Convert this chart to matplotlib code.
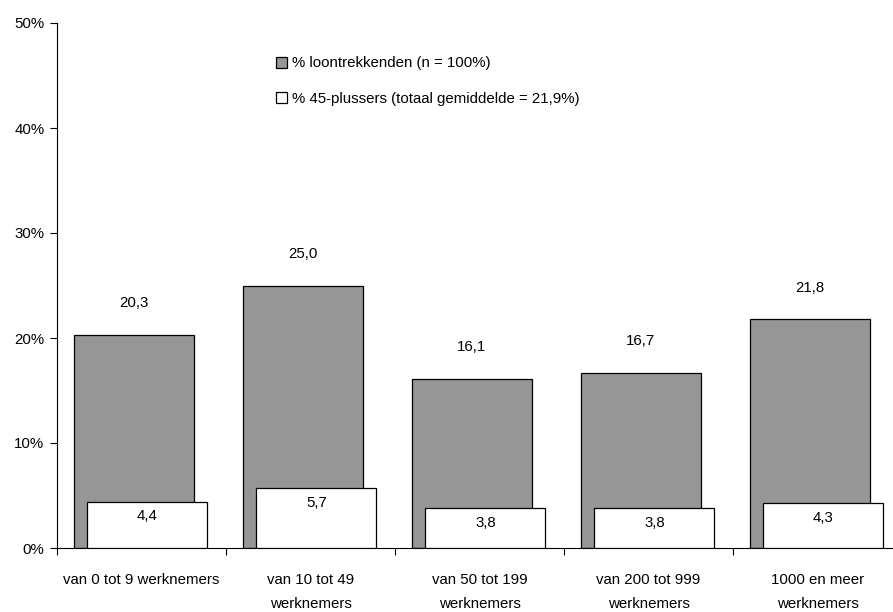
import numpy as np
import matplotlib.pyplot as plt
from matplotlib.patches import Patch
from matplotlib.ticker import FuncFormatter

plt.rcParams['font.family'] = ['Liberation Sans', 'DejaVu Sans']

categories = ["van 0 tot 9 werknemers", "van 10 tot 49\nwerknemers", "van 50 tot 199\nwerknemers",
              "van 200 tot 999\nwerknemers", "1000 en meer\nwerknemers"]
loontrekkenden = [20.3, 25.0, 16.1, 16.7, 21.8]
plussers45 = [4.4, 5.7, 3.8, 3.8, 4.3]
label_1 = "% loontrekkenden (n = 100%)"
label_2 = "% 45-plussers (totaal gemiddelde = 21,9%)"

def fmt(v):
    return ("%.1f" % v).replace(".", ",")

fs = 10.8
fig = plt.figure(figsize=(8.93, 6.12), dpi=100)
# axes runs a bit past the right edge, like the original
ax = fig.add_axes([57 / 893, 1 - 548 / 612, 845 / 893, 525 / 612])

x = np.arange(len(categories))
w = 0.71
ax.bar(x - 0.045, loontrekkenden, w, color='#969696', edgecolor='black', linewidth=0.9, zorder=2)
ax.bar(x + 0.035, plussers45, w, color='white', edgecolor='black', linewidth=0.9, zorder=3)

for i in range(len(x)):
    ax.text(x[i] - 0.045, loontrekkenden[i] + 3.0, fmt(loontrekkenden[i]), ha='center', va='center', fontsize=fs)
    ax.text(x[i] + 0.035, plussers45[i] - 1.4, fmt(plussers45[i]), ha='center', va='center', fontsize=fs, zorder=4)

ax.set_xlim(-0.5, len(x) - 0.5)
ax.set_ylim(0, 50)
ax.set_yticks(np.arange(0, 51, 10))
ax.yaxis.set_major_formatter(FuncFormatter(lambda v, p: "%d%%" % v))
ax.set_xticks(x - 0.5)
ax.set_xticklabels([])
ax.set_xticks(x, minor=True)
ax.set_xticklabels(categories, minor=True, linespacing=1.95)
ax.tick_params(axis='x', which='minor', length=0, pad=18, labelsize=fs)
ax.tick_params(axis='x', which='major', length=5, direction='out')
ax.tick_params(axis='y', length=5, direction='out', labelsize=fs, pad=4)
ax.spines['top'].set_visible(False)
ax.spines['right'].set_visible(False)

handles = [Patch(facecolor='#969696', edgecolor='black', linewidth=0.9),
           Patch(facecolor='white', edgecolor='black', linewidth=0.9)]
fig.legend(handles, [label_1, label_2], loc='upper left', bbox_to_anchor=(262 / 893, 1 - 43 / 612),
           frameon=False, handlelength=0.75, handleheight=0.75, handletextpad=0.35, labelspacing=1.4, fontsize=fs)

fig.savefig("out.png", dpi=100)
